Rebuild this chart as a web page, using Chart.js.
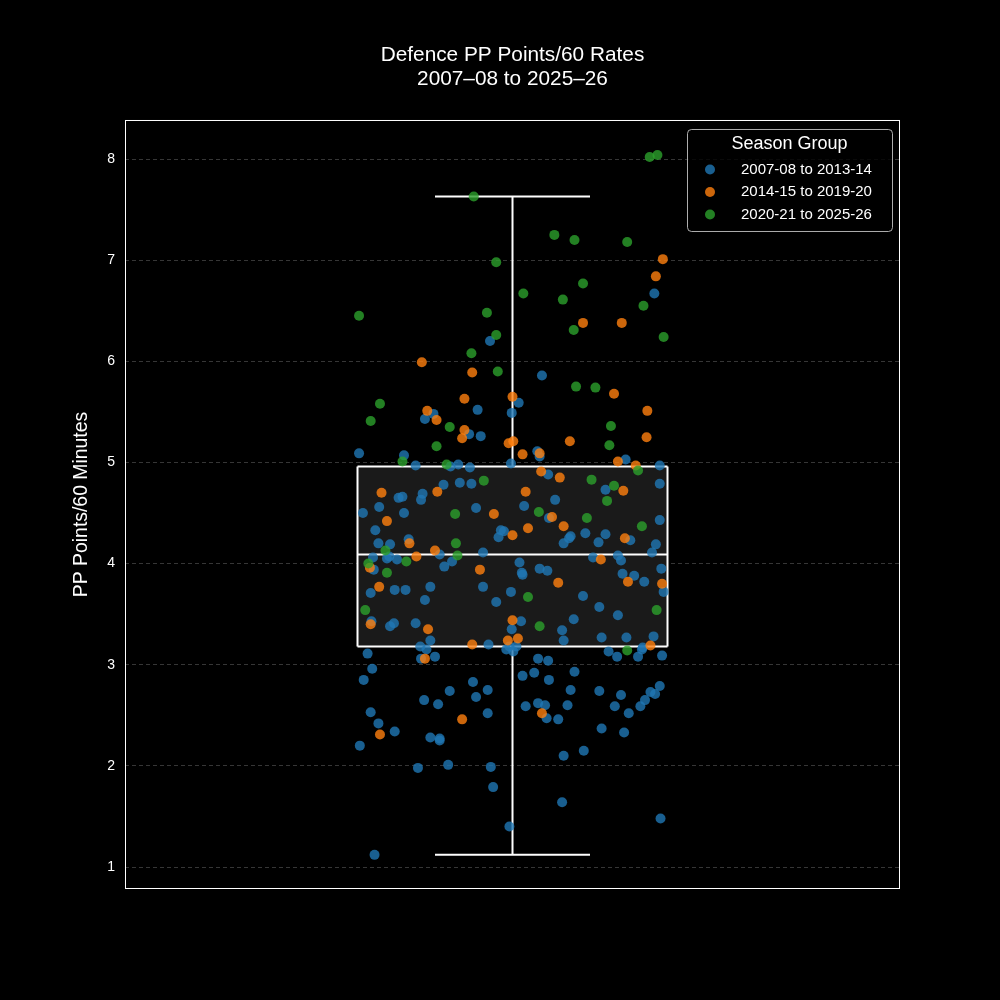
<!DOCTYPE html>
<html>
<head>
<meta charset="utf-8">
<script src="https://cdn.jsdelivr.net/npm/chart.js@4.4.0/dist/chart.umd.min.js"></script>
<style>
  html, body { margin: 0; padding: 0; background: #000; }
  canvas { display: block; }
</style>
</head>
<body>
<canvas id="chart" width="1000" height="1000"></canvas>
<script>
// Season groups and their colours
const seasonGroups = ['2007-08 to 2013-14', '2014-15 to 2019-20', '2020-21 to 2025-26'];
const groupColors = ['rgba(31,119,180,0.8)', 'rgba(255,127,14,0.8)', 'rgba(44,160,44,0.8)'];

// Player rates: [jitter, PP points/60]
const early = [
  [0.183,6.67],[-0.029,6.20],[-0.045,5.52],[-0.001,5.49],[0.008,5.59],[0.038,5.86],[-0.102,5.48],[-0.113,5.43],
  [-0.056,5.28],[-0.041,5.26],[-0.198,5.09],[-0.140,5.07],[-0.125,4.97],[-0.080,4.96],[-0.070,4.98],[-0.055,4.95],
  [-0.002,4.99],[0.032,5.11],[0.035,5.06],[0.146,5.03],[0.190,4.97],[-0.089,4.78],[-0.068,4.80],[-0.053,4.79],
  [-0.116,4.69],[-0.147,4.65],[-0.142,4.66],[-0.118,4.63],[0.046,4.88],[0.190,4.79],[0.120,4.73],[0.055,4.63],
  [0.015,4.57],[-0.193,4.50],[-0.172,4.56],[-0.140,4.50],[-0.047,4.55],[-0.177,4.33],[-0.015,4.33],[-0.011,4.32],
  [-0.018,4.26],[-0.173,4.20],[-0.158,4.19],[-0.134,4.24],[-0.180,4.06],[-0.162,4.05],[-0.159,4.07],[-0.149,4.04],
  [-0.094,4.09],[-0.038,4.11],[-0.088,3.97],[-0.078,4.02],[-0.179,3.94],[-0.152,3.74],[-0.138,3.74],[-0.106,3.77],
  [-0.038,3.77],[-0.183,3.71],[-0.113,3.64],[-0.002,3.72],[-0.021,3.62],[-0.182,3.43],[-0.158,3.38],[-0.153,3.41],
  [-0.125,3.41],[-0.106,3.24],[-0.001,3.35],[0.011,3.43],[-0.008,3.15],[-0.004,3.18],[-0.031,3.20],[-0.119,3.18],
  [-0.111,3.15],[-0.187,3.11],[-0.100,3.08],[-0.118,3.06],[0.001,3.13],[0.005,3.18],[-0.181,2.96],[-0.192,2.85],
  [-0.051,2.83],[-0.081,2.74],[-0.032,2.75],[-0.047,2.68],[-0.114,2.65],[-0.096,2.61],[-0.183,2.53],[-0.032,2.52],
  [-0.173,2.42],[-0.152,2.34],[-0.106,2.28],[-0.094,2.27],[-0.094,2.25],[-0.197,2.20],[-0.122,1.98],[-0.083,2.01],
  [-0.028,1.99],[-0.025,1.79],[-0.004,1.40],[-0.178,1.12],[0.124,3.13],[0.135,3.08],[0.162,3.08],[0.167,3.15],
  [0.193,3.09],[0.033,3.06],[0.046,3.04],[0.013,2.89],[0.028,2.92],[0.080,2.93],[0.047,2.85],[0.075,2.75],
  [0.112,2.74],[0.140,2.70],[0.178,2.73],[0.184,2.71],[0.190,2.79],[0.171,2.65],[0.165,2.59],[0.132,2.59],
  [0.150,2.52],[0.017,2.59],[0.033,2.62],[0.042,2.60],[0.071,2.60],[0.044,2.47],[0.059,2.46],[0.115,2.37],
  [0.144,2.33],[0.092,2.15],[0.066,2.10],[0.064,1.64],[0.191,1.48],[0.047,4.45],[0.190,4.43],[0.094,4.30],
  [0.120,4.29],[0.075,4.27],[0.073,4.25],[0.066,4.20],[0.111,4.21],[0.152,4.23],[0.185,4.19],[0.180,4.11],
  [0.104,4.06],[0.136,4.08],[0.140,4.03],[0.009,4.01],[0.012,3.91],[0.013,3.89],[0.035,3.95],[0.045,3.93],
  [0.142,3.90],[0.157,3.88],[0.170,3.82],[0.192,3.95],[0.195,3.72],[0.091,3.68],[0.112,3.57],[0.136,3.49],
  [0.079,3.45],[0.064,3.34],[0.066,3.24],[0.115,3.27],[0.147,3.27],[0.182,3.28],[0.168,3.17]
];
const middle = [
  [0.194,7.01],[0.185,6.84],[0.091,6.38],[0.141,6.38],[-0.117,5.99],[-0.052,5.89],[-0.062,5.63],[0.000,5.65],
  [-0.110,5.51],[-0.098,5.42],[-0.062,5.32],[-0.065,5.24],[-0.005,5.19],[0.001,5.21],[-0.169,4.70],[-0.097,4.71],
  [-0.024,4.49],[-0.162,4.42],[0.000,4.28],[-0.133,4.20],[-0.124,4.07],[-0.100,4.13],[-0.184,3.96],[-0.042,3.94],
  [-0.172,3.77],[-0.183,3.40],[-0.109,3.35],[0.000,3.44],[-0.006,3.24],[0.007,3.26],[-0.052,3.20],[-0.113,3.06],
  [-0.065,2.46],[-0.171,2.31],[0.038,2.52],[0.131,5.68],[0.174,5.51],[0.074,5.21],[0.173,5.25],[0.035,5.09],
  [0.013,5.08],[0.136,5.01],[0.159,4.97],[0.037,4.91],[0.061,4.85],[0.143,4.72],[0.017,4.71],[0.051,4.46],
  [0.066,4.37],[0.020,4.35],[0.145,4.25],[0.114,4.04],[0.059,3.81],[0.149,3.82],[0.193,3.80],[0.178,3.19]
];
const recent = [
  [-0.050,7.63],[-0.021,6.98],[-0.033,6.48],[-0.198,6.45],[0.177,8.02],[0.187,8.04],[0.054,7.25],[0.080,7.20],
  [0.148,7.18],[0.091,6.77],[0.014,6.67],[0.065,6.61],[0.169,6.55],[-0.021,6.26],[-0.053,6.08],[-0.019,5.90],
  [-0.171,5.58],[-0.183,5.41],[-0.081,5.35],[-0.098,5.16],[-0.142,5.01],[-0.085,4.98],[-0.037,4.82],[-0.074,4.49],
  [-0.073,4.20],[-0.164,4.13],[-0.137,4.02],[-0.071,4.08],[-0.186,4.00],[-0.162,3.91],[-0.190,3.54],[0.079,6.31],
  [0.195,6.24],[0.082,5.75],[0.107,5.74],[0.127,5.36],[0.125,5.17],[0.162,4.92],[0.102,4.83],[0.131,4.77],
  [0.122,4.62],[0.034,4.51],[0.096,4.45],[0.167,4.37],[0.020,3.67],[0.186,3.54],[0.035,3.38],[0.148,3.14]
];

// Box plot summary: whisker low, Q1, median, Q3, whisker high
const boxSummary = [1.12, 3.18, 4.09, 4.96, 7.63];
const yTicks = [1, 2, 3, 4, 5, 6, 7, 8];

const FONT = '"Liberation Sans", Arial, sans-serif';
const boxHalf = 0.2;
const capHalf = 0.1;
const [wLow, q1, med, q3, wHigh] = boxSummary;

const toPoints = arr => arr.map(([x, y]) => ({ x, y }));

function pointSet(label, data, color, order) {
  return {
    label: label,
    data: toPoints(data),
    backgroundColor: color,
    borderWidth: 0,
    pointRadius: 5,
    pointHoverRadius: 5,
    order: order
  };
}

function lineSet(data, extra) {
  return Object.assign({
    label: '',
    data: data,
    showLine: true,
    borderColor: '#ffffff',
    borderWidth: 2,
    pointRadius: 0,
    pointHoverRadius: 0,
    fill: false,
    order: 5
  }, extra || {});
}

const datasets = [
  pointSet(seasonGroups[2], recent, groupColors[2], 0),
  pointSet(seasonGroups[1], middle, groupColors[1], 1),
  pointSet(seasonGroups[0], early, groupColors[0], 2),
  // box top (filled down to the next dataset, the box bottom)
  lineSet([{ x: -boxHalf, y: q3 }, { x: boxHalf, y: q3 }], { fill: '+1', backgroundColor: '#1a1a1a', order: 6 }),
  lineSet([{ x: -boxHalf, y: q1 }, { x: boxHalf, y: q1 }]),
  lineSet([{ x: -boxHalf, y: q1 }, { x: -boxHalf, y: q3 }]),
  lineSet([{ x: boxHalf, y: q1 }, { x: boxHalf, y: q3 }]),
  lineSet([{ x: -boxHalf, y: med }, { x: boxHalf, y: med }]),
  lineSet([{ x: 0, y: q3 }, { x: 0, y: wHigh }]),
  lineSet([{ x: 0, y: q1 }, { x: 0, y: wLow }]),
  lineSet([{ x: -capHalf, y: wHigh }, { x: capHalf, y: wHigh }]),
  lineSet([{ x: -capHalf, y: wLow }, { x: capHalf, y: wLow }])
];

// Centre the chart title over the plot area rather than the whole canvas
const centreTitle = {
  id: 'centreTitle',
  afterLayout(chart) {
    if (chart.titleBlock) {
      chart.titleBlock.left = chart.chartArea.left;
      chart.titleBlock.right = chart.chartArea.right;
    }
  }
};

// White frame round the plot area
const plotFrame = {
  id: 'plotFrame',
  afterDatasetsDraw(chart) {
    const { ctx, chartArea: a } = chart;
    ctx.save();
    ctx.strokeStyle = '#ffffff';
    ctx.lineWidth = 1;
    ctx.strokeRect(a.left + 0.5, a.top + 0.5, a.width - 1, a.height - 1);
    ctx.restore();
  }
};

// Legend box inside the top right corner, matplotlib style
const seasonLegend = {
  id: 'seasonLegend',
  afterDraw(chart) {
    const { ctx, chartArea } = chart;
    const w = 205, h = 102;
    const left = chartArea.right - 8 - w;
    const top = chartArea.top + 9;
    ctx.save();
    ctx.beginPath();
    ctx.roundRect(left + 0.5, top + 0.5, w, h, 4);
    ctx.fillStyle = 'rgba(0,0,0,0.8)';
    ctx.fill();
    ctx.strokeStyle = 'rgba(204,204,204,0.85)';
    ctx.lineWidth = 1;
    ctx.stroke();

    ctx.fillStyle = '#ffffff';
    ctx.textBaseline = 'middle';
    ctx.textAlign = 'center';
    ctx.font = '18px ' + FONT;
    ctx.fillText('Season Group', left + w / 2, top + 15);

    ctx.textAlign = 'left';
    ctx.font = '15px ' + FONT;
    seasonGroups.forEach((label, i) => {
      const y = top + 40.5 + i * 22.5;
      ctx.fillStyle = groupColors[i];
      ctx.beginPath();
      ctx.arc(left + 23, y, 5, 0, Math.PI * 2);
      ctx.fill();
      ctx.fillStyle = '#ffffff';
      ctx.fillText(label, left + 54, y);
    });
    ctx.restore();
  }
};

new Chart(document.getElementById('chart'), {
  type: 'scatter',
  data: { datasets: datasets },
  options: {
    responsive: false,
    animation: false,
    devicePixelRatio: 1,
    layout: { padding: { left: 60, right: 100, top: 0, bottom: 111 } },
    scales: {
      x: {
        type: 'linear',
        min: -0.5,
        max: 0.5,
        display: false
      },
      y: {
        type: 'linear',
        min: 0.7825,
        max: 8.386,
        afterFit: (scale) => { scale.width = 65; },
        afterBuildTicks: (scale) => { scale.ticks = yTicks.map(v => ({ value: v })); },
        border: { display: false, dash: [4, 3] },
        grid: {
          color: '#363636',
          lineWidth: 1,
          drawTicks: false
        },
        ticks: {
          color: '#ffffff',
          padding: 10,
          font: { family: FONT, size: 14 }
        },
        title: {
          display: true,
          text: 'PP Points/60 Minutes',
          color: '#ffffff',
          font: { family: FONT, size: 19.4 },
          padding: { top: 10.4, bottom: 0 }
        }
      }
    },
    plugins: {
      legend: { display: false },
      tooltip: { enabled: false },
      title: {
        display: true,
        text: ['Defence PP Points/60 Rates', '2007\u201308 to 2025\u201326'],
        color: '#ffffff',
        font: { family: FONT, size: 20.8, weight: 'normal', lineHeight: 1.12 },
        padding: { top: 44, bottom: 29.4 }
      }
    }
  },
  plugins: [centreTitle, plotFrame, seasonLegend]
});
</script>
</body>
</html>
